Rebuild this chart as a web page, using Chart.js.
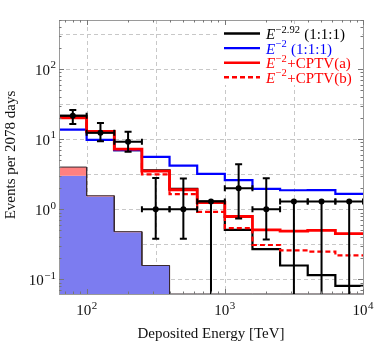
<!DOCTYPE html>
<html><head><meta charset="utf-8">
<script src="https://cdn.jsdelivr.net/npm/chart.js@4.4.0/dist/chart.umd.min.js"></script>
<style>html,body{margin:0;padding:0;background:#fff;}#wrap{width:374px;height:345px;position:relative}</style>
</head><body><div id="wrap"><canvas id="c" width="374" height="345"></canvas></div>
<script>
// ---- data ----
const binEdges   = [63.1, 100, 158.5, 251.2, 398.1, 631.0, 1000, 1585, 2512, 3981, 6310, 10000];
const modelE292  = [21.5, 12.5, 7.0, 3.6, 1.95, 1.3, 0.51, 0.27, 0.158, 0.115, 0.081];
const modelE2    = [13.7, 9.8, 7.0, 5.6, 4.2, 3.2, 2.6, 1.95, 1.87, 1.88, 1.66];
const modelCPTVa = [20.1, 12.9, 7.2, 3.5, 1.9, 1.25, 0.79, 0.51, 0.49, 0.50, 0.45];
const modelCPTVb = [20.1, 12.9, 7.2, 3.15, 1.65, 0.92, 0.54, 0.31, 0.26, 0.25, 0.22];
const bgBlue     = [3.0, 1.52, 0.47, 0.156, 0, 0, 0, 0, 0, 0, 0];
const bgTotal    = [4.0, 1.56, 0.48, 0.158, 0, 0, 0, 0, 0, 0, 0];
const dataCenters = [79.4, 125.9, 199.5, 316.2, 501.2, 794.3, 1259, 1995, 3162, 5012, 7943];
const dataValues  = [21.5, 12.3, 9.2, 1.0, 1.0, 1.29, 2.0, 1.0, 1.29, 1.29, 1.29];
const dataLow     = [16.4, 9.3, 6.6, 0.38, 0.38, 0, 0.74, 0.37, 0, 0, 0];
const dataHigh    = [26.0, 17.0, 12.8, 2.8, 2.75, 1.29, 4.4, 2.77, 1.29, 1.29, 1.29];
const xTickValues = [100, 1000, 10000];
const xTickLabels = ['10^2', '10^3', '10^4'];
const yTickValues = [0.1, 1, 10, 100];
const yTickLabels = ['10^-1', '10^0', '10^1', '10^2'];
const xGridValues = [100, 316.2, 1000, 3162];
const yGridValues = [0.1, 0.316, 1, 3.16, 10, 31.6, 100, 316];
const legendTexts = ['E^-2.92 (1:1:1)', 'E^-2 (1:1:1)', 'E^-2+CPTV(a)', 'E^-2+CPTV(b)'];
const xTitle = 'Deposited Energy [TeV]';
const yTitle = 'Events per 2078 days';
const X_MIN = 63.1, X_MAX = 10000, Y_MIN = 0.062, Y_MAX = 500;

const F = '"Liberation Serif", "Times New Roman", serif';
const RED = '#ff0000', BLUE = '#0000ff', BLACK = '#000000';

function stepPoints(vals) {
  const pts = [];
  vals.forEach((v, i) => {
    const y = v > 0 ? v : Y_MIN;
    pts.push({x: binEdges[i], y: y}, {x: binEdges[i + 1], y: y});
  });
  return pts;
}
function lineDs(vals, color, width, dash, order) {
  return {data: stepPoints(vals), borderColor: color, borderWidth: width, borderDash: dash,
    pointRadius: 0, fill: false, tension: 0, order: order, borderCapStyle: 'butt', borderJoinStyle: 'miter'};
}

function drawPow(ctx, label, x, y, align, size) {
  const parts = label.split('^');
  const base = parts[0], exp = (parts[1] || '').replace('-', '\u2212');
  ctx.font = size + 'px ' + F;
  const wb = ctx.measureText(base).width;
  const es = Math.round(size * 0.7);
  ctx.font = es + 'px ' + F;
  const we = ctx.measureText(exp).width;
  const total = wb + we + 0.5;
  let x0 = align === 'center' ? x - total / 2 : (align === 'right' ? x - total : x);
  ctx.textAlign = 'left';
  ctx.textBaseline = 'alphabetic';
  ctx.font = size + 'px ' + F;
  ctx.fillText(base, x0, y);
  ctx.font = es + 'px ' + F;
  ctx.fillText(exp, x0 + wb + 0.5, y - size * 0.42);
}

const decor = {
  id: 'decor',
  beforeDatasetsDraw(chart) {
    const {ctx, chartArea: a, scales: {x, y}} = chart;
    ctx.save();
    ctx.strokeStyle = '#c8c8c8';
    ctx.lineWidth = 1;
    ctx.setLineDash([4, 3]);
    xGridValues.forEach(v => {
      const px = Math.round(x.getPixelForValue(v)) + 0.5;
      ctx.beginPath(); ctx.moveTo(px, a.top); ctx.lineTo(px, a.bottom); ctx.stroke();
    });
    yGridValues.forEach(v => {
      const py = Math.round(y.getPixelForValue(v)) + 0.5;
      if (py < a.top || py > a.bottom) return;
      ctx.beginPath(); ctx.moveTo(a.left, py); ctx.lineTo(a.right, py); ctx.stroke();
    });
    ctx.restore();
  },
  afterDatasetsDraw(chart) {
    const {ctx, chartArea: a, scales: {x, y}} = chart;
    ctx.save();
    ctx.beginPath(); ctx.rect(a.left, a.top, a.right - a.left, a.bottom - a.top); ctx.clip();
    // error bars
    ctx.strokeStyle = BLACK; ctx.lineWidth = 2; ctx.setLineDash([]);
    dataValues.forEach((v, i) => {
      const cx = x.getPixelForValue(dataCenters[i]);
      const cy = y.getPixelForValue(v);
      const xl = x.getPixelForValue(binEdges[i]);
      const xr = x.getPixelForValue(binEdges[i + 1]);
      const yh = y.getPixelForValue(dataHigh[i]);
      const yl = dataLow[i] > 0 ? y.getPixelForValue(dataLow[i]) : a.bottom + 5;
      ctx.beginPath();
      ctx.moveTo(xl, cy); ctx.lineTo(xr, cy);
      ctx.moveTo(xl, cy - 3); ctx.lineTo(xl, cy + 3);
      ctx.moveTo(xr, cy - 3); ctx.lineTo(xr, cy + 3);
      ctx.moveTo(cx, yh); ctx.lineTo(cx, yl);
      if (dataHigh[i] > v) { ctx.moveTo(cx - 3.5, yh); ctx.lineTo(cx + 3.5, yh); }
      if (dataLow[i] > 0) { ctx.moveTo(cx - 3.5, yl); ctx.lineTo(cx + 3.5, yl); }
      ctx.stroke();
      ctx.beginPath(); ctx.arc(cx, cy, 3, 0, Math.PI * 2); ctx.fillStyle = BLACK; ctx.fill();
    });
    ctx.restore();

    ctx.save();
    // legend
    ctx.fillStyle = '#fff';
    ctx.fillRect(219, 25, 143, 60);
    const lColors = [BLACK, BLUE, RED, RED];
    const lDash = [[], [], [], [5, 3]];
    legendTexts.forEach((t, i) => {
      const ly = 33.5 + i * 14.6;
      ctx.strokeStyle = lColors[i]; ctx.lineWidth = 2.4; ctx.setLineDash(lDash[i]);
      ctx.beginPath(); ctx.moveTo(224, ly); ctx.lineTo(260, ly); ctx.stroke();
      ctx.setLineDash([]);
      ctx.fillStyle = lColors[i];
      const m = t.match(/^E\^(\S+?)(\s?\(1:1:1\)|\+CPTV\([ab]\))$/);
      const base = 'E', exp = m[1].replace('-', '\u2212'), rest = m[2];
      const by = ly + 5.5;
      let cx = 266;
      ctx.textAlign = 'left'; ctx.textBaseline = 'alphabetic';
      ctx.font = 'italic 15px ' + F; ctx.fillText(base, cx, by); cx += ctx.measureText(base).width + 0.5;
      ctx.font = '10.5px ' + F; ctx.fillText(exp, cx, by - 6.5); cx += ctx.measureText(exp).width + 0.5;
      ctx.font = '15px ' + F; ctx.fillText(rest, cx, by);
    });
    // frame
    ctx.strokeStyle = '#9a9a9a'; ctx.lineWidth = 1;
    ctx.strokeRect(Math.round(a.left) + 0.5, Math.round(a.top) + 0.5, Math.round(a.right - a.left), Math.round(a.bottom - a.top));
    // tick marks
    ctx.strokeStyle = '#777';
    ctx.beginPath();
    for (let k = 1; k <= 4; k++) for (let mlt = 1; mlt <= 9; mlt++) {
      const v = mlt * Math.pow(10, k);
      if (v < X_MIN || v > X_MAX) continue;
      const px = Math.round(x.getPixelForValue(v)) + 0.5, L = mlt === 1 ? 5 : 2.5;
      ctx.moveTo(px, a.bottom); ctx.lineTo(px, a.bottom - L);
      ctx.moveTo(px, a.top); ctx.lineTo(px, a.top + L);
    }
    for (let k = -2; k <= 2; k++) for (let mlt = 1; mlt <= 9; mlt++) {
      const v = mlt * Math.pow(10, k);
      if (v < Y_MIN || v > Y_MAX) continue;
      const py = Math.round(y.getPixelForValue(v)) + 0.5, L = mlt === 1 ? 5 : 2.5;
      ctx.moveTo(a.left, py); ctx.lineTo(a.left + L, py);
      ctx.moveTo(a.right, py); ctx.lineTo(a.right - L, py);
    }
    ctx.stroke();
    // tick labels
    ctx.fillStyle = '#111';
    xTickValues.forEach((v, i) => drawPow(ctx, xTickLabels[i], x.getPixelForValue(v), 315, 'center', 15));
    yTickValues.forEach((v, i) => drawPow(ctx, yTickLabels[i], 56, y.getPixelForValue(v) + 5.5, 'right', 15));
    // axis titles
    ctx.font = '15px ' + F; ctx.textAlign = 'center'; ctx.textBaseline = 'alphabetic';
    ctx.fillText(xTitle, (a.left + a.right) / 2, 338);
    ctx.save();
    ctx.translate(15, 155); ctx.rotate(-Math.PI / 2);
    ctx.fillText(yTitle, 0, 0);
    ctx.restore();
    ctx.restore();
  }
};

new Chart(document.getElementById('c'), {
  type: 'line',
  data: {
    datasets: [
      {data: stepPoints(bgBlue), borderWidth: 0, borderColor: 'rgba(0,0,0,0)', backgroundColor: 'rgb(124,124,240)',
        fill: 'start', pointRadius: 0, order: 10},
      {data: stepPoints(bgTotal), borderWidth: 1, borderColor: '#3a2a30', backgroundColor: 'rgb(255,128,128)',
        fill: '-1', pointRadius: 0, order: 9},
      lineDs(modelE292, BLACK, 2.2, [], 5),
      lineDs(modelE2, BLUE, 2.2, [], 4),
      lineDs(modelCPTVa, RED, 2.8, [], 3),
      lineDs(modelCPTVb, RED, 2.2, [5, 3], 2)
    ]
  },
  options: {
    responsive: false, animation: false,
    layout: {padding: {left: 0, right: 11, top: 20, bottom: 0}},
    plugins: {legend: {display: false}, tooltip: {enabled: false}},
    scales: {
      x: {type: 'logarithmic', min: X_MIN, max: X_MAX, grid: {display: false}, border: {display: false},
          ticks: {display: false}, afterFit: s => { s.height = 51; }},
      y: {type: 'logarithmic', min: Y_MIN, max: Y_MAX, grid: {display: false}, border: {display: false},
          ticks: {display: false}, afterFit: s => { s.width = 59; }}
    }
  },
  plugins: [decor]
});
</script></body></html>
